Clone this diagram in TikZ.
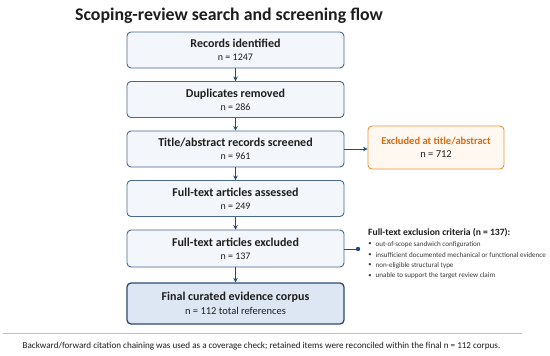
\documentclass[tikz,border=0pt]{standalone}
\usepackage{fontspec}
\setmainfont{Carlito}
\usetikzlibrary{arrows.meta}
\definecolor{boxedge}{HTML}{4A6890}
\definecolor{boxfill}{HTML}{F3F6FA}
\definecolor{finfill}{HTML}{DDE7F3}
\definecolor{finedge}{HTML}{2B4A72}
\definecolor{arrowc}{HTML}{24497A}
\definecolor{orgedge}{HTML}{E8963E}
\definecolor{orgfill}{HTML}{FFF8F0}
\definecolor{orgtext}{HTML}{D96B10}
\definecolor{ink}{HTML}{1E1E1E}
\definecolor{soft}{HTML}{3A3A3A}
\definecolor{rulec}{HTML}{BDBDBD}
\tikzset{
  flowbox/.style={draw=boxedge, fill=boxfill, line width=0.9pt, rounded corners=4pt,
    minimum width=217pt, minimum height=36pt, inner sep=0pt, align=center,
    text=ink, font=\fontsize{12}{13}\selectfont},
  finalbox/.style={flowbox, draw=finedge, fill=finfill, line width=1.3pt, minimum height=41pt,
    font=\fontsize{12}{14}\selectfont},
  exbox/.style={draw=orgedge, fill=orgfill, line width=0.9pt, rounded corners=4pt,
    minimum width=136pt, minimum height=43pt, inner sep=0pt, align=center,
    font=\fontsize{10.5}{13}\selectfont},
  flowarrow/.style={draw=arrowc, line width=1pt, -{Stealth[length=4.5pt,width=4.5pt]}},
  crit/.style={anchor=west, inner sep=0pt, text=soft, font=\fontsize{7.1}{9}\selectfont},
  bulletdot/.style={anchor=center, inner sep=0pt, text=soft, font=\fontsize{6.5}{8}\selectfont},
}
\begin{document}
\begin{tikzpicture}[x=1pt,y=-1pt]
\useasboundingbox (0,0) rectangle (550,356);
\fill[white] (0,0) rectangle (550,356);

\node[anchor=west, inner sep=0pt, text=ink, font=\fontsize{17.8}{19}\selectfont\bfseries] (title) at (75,16)
  {Scoping-review search and screening flow};

\node[flowbox] (b1) at (235.5,50) {\textbf{Records identified}\\{\fontsize{10}{13}\selectfont n = 1247}};
\node[flowbox] (b2) at (235.5,99.5) {\textbf{Duplicates removed}\\{\fontsize{10}{13}\selectfont n = 286}};
\node[flowbox] (b3) at (235.5,149) {\textbf{Title/abstract records screened}\\{\fontsize{10}{13}\selectfont n = 961}};
\node[flowbox] (b4) at (235.5,198.5) {\textbf{Full-text articles assessed}\\{\fontsize{10}{13}\selectfont n = 249}};
\node[flowbox, minimum height=37pt] (b5) at (235.5,248.5) {\textbf{Full-text articles excluded}\\{\fontsize{10}{13}\selectfont n = 137}};
\node[finalbox] (b6) at (235.5,303.5) {\textbf{Final curated evidence corpus}\\{\fontsize{10.5}{14}\selectfont n = 112 total references}};

\node[exbox] (ex) at (436,147.5) {\textcolor{orgtext}{\textbf{Excluded at title/abstract}}\\{\color{ink}n = 712}};

\draw[flowarrow] (b1) -- (b2);
\draw[flowarrow] (b2) -- (b3);
\draw[flowarrow] (b3) -- (b4);
\draw[flowarrow] (b4) -- (b5);
\draw[flowarrow] (b5) -- (b6);
\draw[flowarrow] (b3.east) -- (b3.east -| ex.west);

\coordinate (dot) at (358,249);
\draw[arrowc, line width=1pt] (b5.east |- dot) -- (dot);
\fill[arrowc] (dot) circle (2.2pt);

\node[anchor=west, inner sep=0pt, text=ink, font=\fontsize{9.6}{11}\selectfont\bfseries] (ctitle) at (368,233)
  {Full-text exclusion criteria (n = 137):};
\node[bulletdot] (d1) at (370,244.5) {•};
\node[crit] (c1) at (375.5,244.5) {out-of-scope sandwich configuration};
\node[bulletdot] (d2) at (370,255) {•};
\node[crit] (c2) at (375.5,255) {insufficient documented mechanical or functional evidence};
\node[bulletdot] (d3) at (370,265.5) {•};
\node[crit] (c3) at (375.5,265.5) {non-eligible structural type};
\node[bulletdot] (d4) at (370,276) {•};
\node[crit] (c4) at (375.5,276) {unable to support the target review claim};

\draw[rulec, line width=0.7pt] (3,333) -- (522,333);
\node[inner sep=0pt, text=ink, font=\fontsize{9.1}{10}\selectfont] (foot) at (261.5,346)
  {Backward/forward citation chaining was used as a coverage check; retained items were reconciled within the final n = 112 corpus.};
\end{tikzpicture}
\end{document}
